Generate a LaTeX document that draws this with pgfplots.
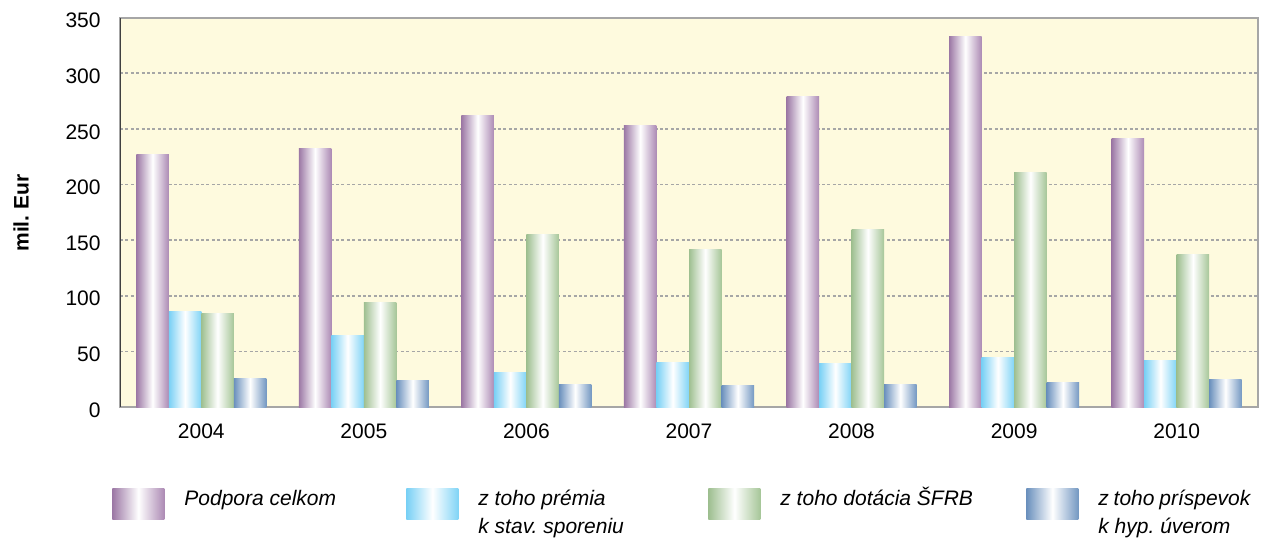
\documentclass[border=0pt]{standalone}
\usepackage{pgfplots}
\pgfplotsset{compat=1.18}
\usepackage{fontspec}
\setmainfont{Liberation Sans}

\definecolor{bg}{RGB}{254,250,222}
\definecolor{purL}{RGB}{156,120,165}
\definecolor{purR}{RGB}{172,138,180}
\definecolor{bluL}{RGB}{120,208,245}
\definecolor{bluR}{RGB}{128,212,246}
\definecolor{grnL}{RGB}{158,191,144}
\definecolor{grnR}{RGB}{166,198,152}
\definecolor{dblL}{RGB}{106,144,189}
\definecolor{dblR}{RGB}{116,152,194}

% one \addplot per bar so that every bar gets its own shading
\pgfplotsset{
  pur/.style={draw=none, forget plot, bar shift=-0.3, left color=purL, right color=purR, middle color=white},
  blu/.style={draw=none, forget plot, bar shift=-0.1, left color=bluL, right color=bluR, middle color=white},
  grn/.style={draw=none, forget plot, bar shift=0.1, left color=grnL, right color=grnR, middle color=white},
  dbl/.style={draw=none, forget plot, bar shift=0.3, left color=dblL, right color=dblR, middle color=white},
}

\begin{document}
\fontsize{10.5}{14}\selectfont\frenchspacing
\begin{tikzpicture}
\begin{axis}[
    name=ax,
    at={(0,0)}, anchor=south west,
    width=569pt, height=194.75pt,
    scale only axis,
    ybar,
    bar width=0.2,
    xmin=-0.5, xmax=6.5,
    ymin=0, ymax=350,
    xtick={0,...,6},
    xticklabels={2004,2005,2006,2007,2008,2009,2010},
    ytick={0,50,...,350},
    major tick length=0pt,
    yticklabel style={inner sep=0pt, xshift=-9.5pt, yshift=-1.5pt},
    xticklabel style={inner sep=0pt, anchor=north, yshift=-8pt},
    /pgf/number format/assume math mode=true,
    axis background/.style={fill=bg},
    axis line style={draw=black!35, line width=1pt},
    ymajorgrids,
    grid style={dash pattern=on 1.5pt off 1.2pt, black!35, line width=0.8pt},
    legend columns=4,
    legend style={at={(rel axis cs:-0.007,-0.205)}, anchor=north west,
        draw=none, fill=none, inner sep=0pt, row sep=0pt,
        nodes={inner sep=0pt, anchor=base west, font=\itshape},
        /tikz/every odd column/.append style={column sep=10pt}},
    legend cell align=left,
    legend image code/.code={\path[#1,draw=none] (0pt,-7pt) rectangle (26pt,8.5pt);},
]
% Podpora celkom
\addplot[pur] coordinates {(0,227)};
\addplot[pur] coordinates {(1,232.7)};
\addplot[pur] coordinates {(2,262.1)};
\addplot[pur] coordinates {(3,253.1)};
\addplot[pur] coordinates {(4,279.2)};
\addplot[pur] coordinates {(5,333.2)};
\addplot[pur] coordinates {(6,241.7)};
% z toho premia k stav. sporeniu
\addplot[blu] coordinates {(0,86)};
\addplot[blu] coordinates {(1,64.7)};
\addplot[blu] coordinates {(2,31.2)};
\addplot[blu] coordinates {(3,40.2)};
\addplot[blu] coordinates {(4,39.3)};
\addplot[blu] coordinates {(5,44.7)};
\addplot[blu] coordinates {(6,42.2)};
% z toho dotacia SFRB
\addplot[grn] coordinates {(0,84)};
\addplot[grn] coordinates {(1,94.3)};
\addplot[grn] coordinates {(2,155.2)};
\addplot[grn] coordinates {(3,141.7)};
\addplot[grn] coordinates {(4,159.7)};
\addplot[grn] coordinates {(5,211)};
\addplot[grn] coordinates {(6,136.6)};
% z toho prispevok k hyp. uverom
\addplot[dbl] coordinates {(0,26)};
\addplot[dbl] coordinates {(1,23.4)};
\addplot[dbl] coordinates {(2,20.4)};
\addplot[dbl] coordinates {(3,19.5)};
\addplot[dbl] coordinates {(4,20.4)};
\addplot[dbl] coordinates {(5,22.2)};
\addplot[dbl] coordinates {(6,24.3)};

\addlegendimage{pur}
\addlegendentry{\parbox[t]{111pt}{Podpora celkom}}
\addlegendimage{blu}
\addlegendentry{\parbox[t]{115pt}{z toho prémia\\k stav. sporeniu}}
\addlegendimage{grn}
\addlegendentry{\parbox[t]{123pt}{z toho dotácia ŠFRB}}
\addlegendimage{dbl}
\addlegendentry{\parbox[t]{76pt}{z toho príspevok\\k hyp. úverom}}
\draw[black!75, line width=1pt] (rel axis cs:0,0) -- (rel axis cs:0,1);
\end{axis}
\node[rotate=90, font=\bfseries, inner sep=0pt] at (-49.5pt,97pt) {mil. Eur};
\path (-60pt,-65pt) rectangle (572pt,203.5pt);
\end{tikzpicture}
\end{document}
